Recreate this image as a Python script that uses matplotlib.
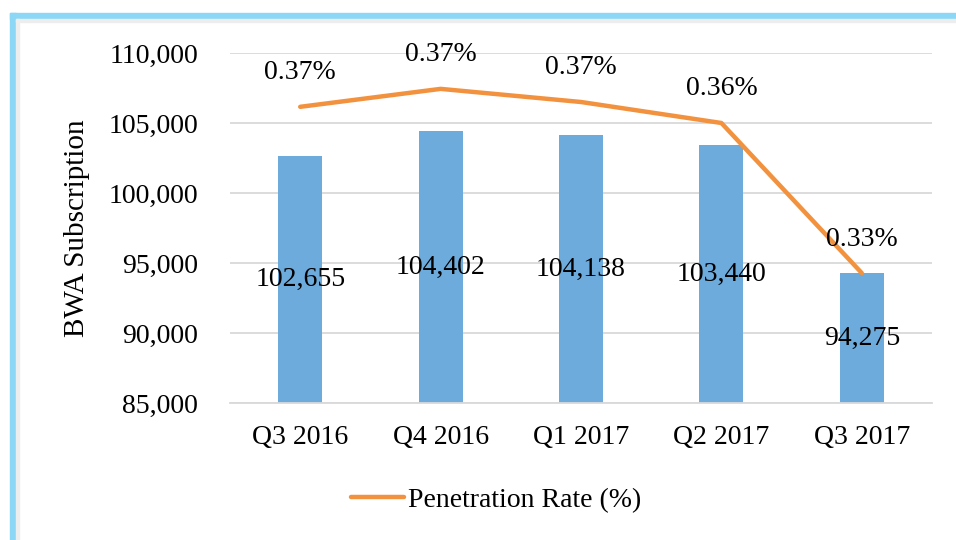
import matplotlib
matplotlib.use("Agg")
import matplotlib.pyplot as plt
from matplotlib.patches import Rectangle
from matplotlib.ticker import FuncFormatter, MultipleLocator

categories = ["Q3 2016", "Q4 2016", "Q1 2017", "Q2 2017", "Q3 2017"]
subscriptions = [102655, 104402, 104138, 103440, 94275]
penetration = [0.3677, 0.3718, 0.3688, 0.3640, 0.3297]
penetration_labels = ["0.37%", "0.37%", "0.37%", "0.36%", "0.33%"]

plt.rcParams['font.family'] = ['Liberation Serif', 'DejaVu Serif']

W, H = 956, 540
fig = plt.figure(figsize=(W / 100, H / 100), dpi=100)

# decorative frame
fig.patches.append(Rectangle((10 / W, 1 - 19 / H), 1 - 10 / W, 6 / H,
                             transform=fig.transFigure, color='#8DD7F6', zorder=0))
fig.patches.append(Rectangle((10 / W, 0), 6 / W, 1 - 13 / H,
                             transform=fig.transFigure, color='#8DD7F6', zorder=0))
fig.patches.append(Rectangle((16 / W, 1 - 22 / H), 1 - 16 / W, 3 / H,
                             transform=fig.transFigure, color='#EDEDED', zorder=0))
fig.patches.append(Rectangle((16 / W, 0), 3 / W, 1 - 19 / H,
                             transform=fig.transFigure, color='#EDEDED', zorder=0))

ax = fig.add_axes([230 / W, 1 - 403 / H, 702 / W, 350 / H])
ax.set_facecolor('none')
x = list(range(len(categories)))
bars = ax.bar(x, subscriptions, width=0.313, color='#6CABDC', zorder=2)
ax.set_ylim(85000, 110000)
ax.set_xlim(-0.5, len(categories) - 0.5)
ax.yaxis.set_major_locator(MultipleLocator(5000))
ax.yaxis.set_major_formatter(FuncFormatter(lambda v, p: f"{int(v):,}"))
ax.grid(axis='y', color='#D9D9D9', linewidth=1.3, zorder=0)
ax.set_axisbelow(True)
for s in ['top', 'right', 'left']:
    ax.spines[s].set_visible(False)
ax.spines['bottom'].set_color('#D9D9D9')
ax.spines['bottom'].set_linewidth(1.3)
ax.tick_params(axis='both', length=0, labelsize=20)
ax.tick_params(axis='y', pad=23)
ax.tick_params(axis='x', pad=16)
ax.set_xticks(x)
ax.set_xticklabels(categories)
ax.set_ylabel("BWA Subscription", fontsize=21)
ax.yaxis.set_label_coords(-0.200, 0.5)

for xi, v in zip(x, subscriptions):
    ax.text(xi, (85000 + v) / 2, f"{v:,}", ha='center', va='center', fontsize=20, zorder=3)

ax2 = ax.twinx()
ax2.set_ylim(0.30, 0.38)
line, = ax2.plot(x, penetration, color='#F2923E', linewidth=3.2,
                 solid_capstyle='round', label="Penetration Rate (%)")
ax2.set_yticks([])
for s in ax2.spines.values():
    s.set_visible(False)
for xi, v, lab in zip(x, penetration, penetration_labels):
    ax2.annotate(lab, (xi, v), xytext=(0, 24.5), textcoords='offset points',
                 ha='center', va='center', fontsize=20)

fig.legend(handles=[line], loc='center', bbox_to_anchor=(496 / W, 1 - 500 / H),
           frameon=False, fontsize=20, handlelength=1.9, handletextpad=0.15)

fig.savefig("out.png", dpi=100)
